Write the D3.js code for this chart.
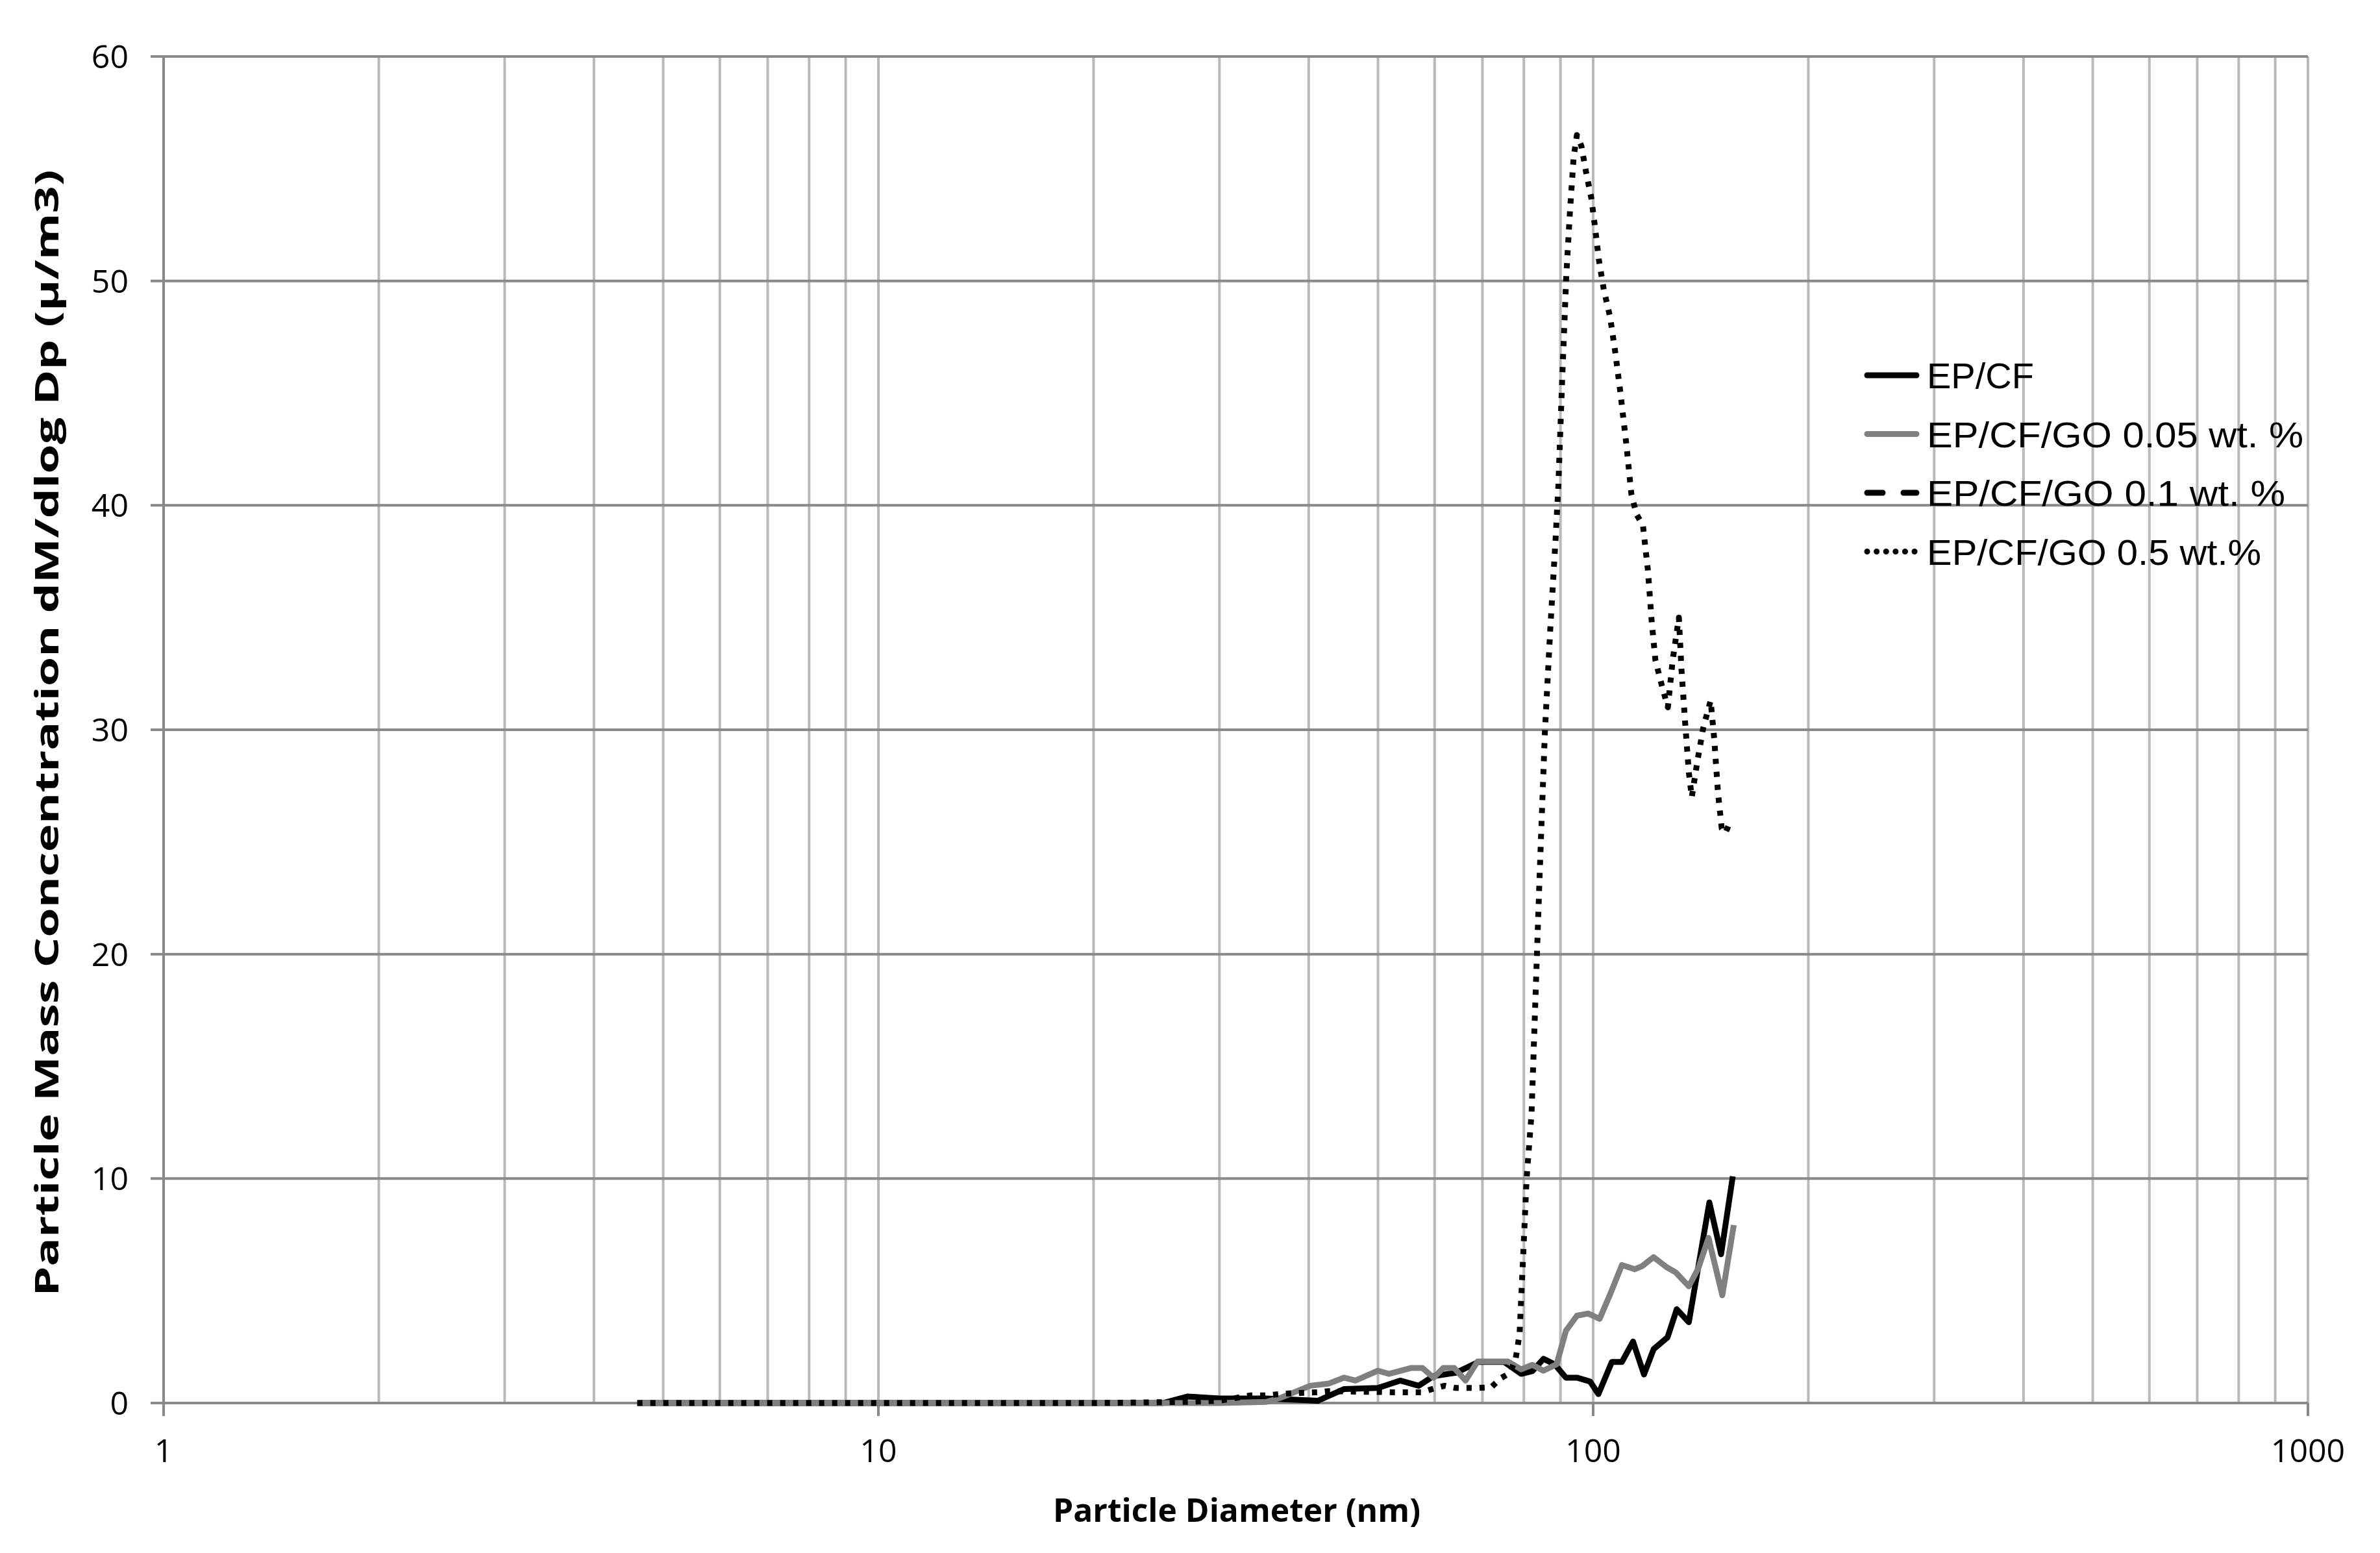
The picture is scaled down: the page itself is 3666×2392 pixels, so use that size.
<!DOCTYPE html>
<html>
<head>
<meta charset="utf-8">
<script src="https://cdn.jsdelivr.net/npm/d3@7"></script>
<style>
  html, body { margin: 0; padding: 0; background: #fff; }
  svg { display: block; }
  .tick-label { font-family: "Open Sans", "DejaVu Sans", sans-serif; font-size: 50px; fill: #000; }
  .axis-title { font-family: "Open Sans", "Liberation Sans", sans-serif; font-size: 50px; font-weight: bold; fill: #000; }
  .legend-text { font-family: "Liberation Sans Narrow", "Liberation Sans", sans-serif; font-size: 56px; fill: #000; }
</style>
</head>
<body>
<div id="chart"></div>
<script>
// Particle mass distribution, log x axis.
const xTicks = [1, 10, 100, 1000];
const yTicks = [0, 10, 20, 30, 40, 50, 60];

const epcfD = [4.6, 10, 20, 25, 27.1, 30, 34.9, 41.2, 44.8, 50, 53.7, 57, 59.8, 64.3, 69.1, 75.1, 79.3, 82.2, 85.2, 88.3, 91.6, 94.9, 99, 101.7, 106.2, 109.7, 113.7, 117.8, 121.5, 127.1, 130.9, 136.1, 145.4, 151, 156.8];
const epcfV = [0, 0, 0, 0, 0.29, 0.2, 0.2, 0.1, 0.62, 0.67, 1.0, 0.77, 1.2, 1.35, 1.83, 1.83, 1.3, 1.42, 1.97, 1.73, 1.13, 1.13, 0.96, 0.4, 1.83, 1.83, 2.74, 1.27, 2.4, 2.93, 4.18, 3.6, 8.94, 6.63, 10.1];

const go005D = [4.6, 10, 20, 30, 34.9, 36.6, 40.2, 42.7, 44.8, 46.5, 50, 51.8, 55.6, 57.7, 59.8, 61.7, 63.9, 66.3, 68.9, 76, 79.3, 82.2, 85.2, 88.9, 91.6, 94.9, 98.4, 102.1, 105.8, 109.7, 114.4, 117.1, 121.5, 126.6, 130.5, 136.1, 140.3, 145, 151.6, 157.3];
const go005V = [0, 0, 0, 0, 0.05, 0.24, 0.77, 0.87, 1.13, 1.0, 1.44, 1.3, 1.56, 1.56, 1.13, 1.56, 1.56, 1.0, 1.85, 1.85, 1.5, 1.7, 1.44, 1.73, 3.22, 3.89, 3.99, 3.75, 4.9, 6.15, 5.96, 6.1, 6.5, 6.06, 5.82, 5.2, 6.0, 7.36, 4.8, 7.93];

// 0.1 wt.% curve is not visible in the reference (hidden); legend entry only
const go01D = [];
const go01V = [];

const go05D = [4.6, 10, 20, 27, 30, 33.2, 34.9, 37.5, 41.2, 42.7, 52.4, 57.7, 59.5, 62, 64.3, 68, 72, 74.2, 76.5, 77.9, 78.4, 78.9, 79.8, 80.7, 82, 84.2, 85.6, 87.1, 88.6, 89.4, 90.5, 91.7, 92.8, 93.9, 94.9, 96.3, 97.8, 99.4, 100.6, 101.9, 103.5, 105.6, 107.3, 109.1, 111.3, 113.1, 115, 117.4, 119.3, 120.7, 122.2, 124.7, 127.2, 129.2, 131.8, 132.9, 134.5, 136.1, 137.4, 139.9, 142.6, 146, 147.7, 149.5, 151.3, 153.1, 155.5];
const go05V = [0, 0, 0, 0.05, 0.1, 0.34, 0.34, 0.43, 0.48, 0.53, 0.48, 0.48, 0.62, 0.77, 0.67, 0.67, 0.7, 1.1, 1.34, 1.97, 2.5, 3.1, 6.5, 10.0, 12.9, 23.7, 29.9, 34.5, 38.5, 40.9, 45.6, 50.2, 53.1, 55.5, 56.5, 56.0, 54.8, 53.7, 52.4, 50.9, 49.6, 48.4, 46.9, 45.1, 42.7, 40.5, 39.6, 39.1, 37.1, 34.9, 33.1, 32.0, 31.0, 33.1, 35.0, 32.7, 30.3, 28.1, 27.0, 28.6, 30.1, 31.3, 29.6, 27.2, 25.6, 25.4, 25.9];

const seriesNames = ['EP/CF', 'EP/CF/GO 0.05 wt. %', 'EP/CF/GO 0.1 wt. %', 'EP/CF/GO 0.5 wt.%'];

const W = 3666, H = 2392;
const m = { left: 252, right: 3555, top: 87, bottom: 2161 };

const series = [
  { name: seriesNames[0], d: epcfD, v: epcfV, color: '#000', width: 9, dash: null, legDash: null },
  { name: seriesNames[1], d: go005D, v: go005V, color: '#808080', width: 9, dash: null, legDash: null },
  { name: seriesNames[2], d: go01D, v: go01V, color: '#000', width: 9, dash: '30 20', legDash: '24 32' },
  { name: seriesNames[3], d: go05D, v: go05V, color: '#000', width: 9, dash: '8 12', legDash: '0.1 14.5' },
];

const svg = d3.select('#chart').append('svg').attr('width', W).attr('height', H);

const x = d3.scaleLog().domain([1, 1000]).range([m.left, m.right]);
const y = d3.scaleLinear().domain([0, 60]).range([m.bottom, m.top]);

// vertical minor/major gridlines (light)
const vLines = [];
for (let dec = 1; dec < 1000; dec *= 10) for (let k = 1; k <= 10; k++) if (dec * k > 1) vLines.push(dec * k);
svg.append('g').selectAll('line').data(vLines).join('line')
  .attr('x1', d => x(d)).attr('x2', d => x(d))
  .attr('y1', m.top).attr('y2', m.bottom)
  .attr('stroke', '#b9b9b9').attr('stroke-width', 4);

// horizontal gridlines (darker)
svg.append('g').selectAll('line').data(yTicks).join('line')
  .attr('x1', m.left - 20).attr('x2', m.right)
  .attr('y1', d => y(d)).attr('y2', d => y(d))
  .attr('stroke', '#898989').attr('stroke-width', 4);

// left axis line and bottom ticks
svg.append('line').attr('x1', m.left).attr('x2', m.left).attr('y1', m.top).attr('y2', m.bottom + 20)
  .attr('stroke', '#898989').attr('stroke-width', 4);
svg.append('g').selectAll('line').data(xTicks).join('line')
  .attr('x1', d => x(d)).attr('x2', d => x(d))
  .attr('y1', m.bottom).attr('y2', m.bottom + 20)
  .attr('stroke', '#898989').attr('stroke-width', 4);

// tick labels
svg.append('g').selectAll('text').data(yTicks).join('text')
  .attr('class', 'tick-label')
  .attr('x', 198).attr('y', d => y(d) + 18)
  .attr('text-anchor', 'end').text(d => d);
svg.append('g').selectAll('text').data(xTicks).join('text')
  .attr('class', 'tick-label')
  .attr('x', d => x(d)).attr('y', 2252)
  .attr('text-anchor', 'middle').text(d => d);

// axis titles
svg.append('text').attr('class', 'axis-title')
  .attr('x', 1905).attr('y', 2344)
  .attr('text-anchor', 'middle')
  .attr('textLength', 566).attr('lengthAdjust', 'spacingAndGlyphs')
  .text('Particle Diameter (nm)');
svg.append('text').attr('class', 'axis-title')
  .attr('transform', `translate(90,${(m.top + m.bottom) / 2 + 5}) rotate(-90)`)
  .attr('text-anchor', 'middle')
  .attr('textLength', 1735).attr('lengthAdjust', 'spacingAndGlyphs')
  .text('Particle Mass Concentration dM/dlog Dp (µ/m3)');

// legend (drawn over gridlines, no box)
const leg = svg.append('g');
series.forEach((s, i) => {
  const ly = 578 + i * 90.5;
  leg.append('line')
    .attr('x1', 2876).attr('x2', 2952)
    .attr('y1', ly).attr('y2', ly)
    .attr('stroke', s.color).attr('stroke-width', s.width)
    .attr('stroke-linecap', 'round')
    .attr('stroke-dasharray', s.legDash);
  leg.append('text').attr('class', 'legend-text')
    .attr('x', 2968).attr('y', ly + 20)
    .attr('textLength', i === 0 ? null : [0, 580, 552, 515][i])
    .attr('lengthAdjust', 'spacingAndGlyphs')
    .text(s.name);
});

// series lines
const line = d3.line().x(p => x(p[0])).y(p => y(p[1]));
svg.append('g').selectAll('path').data(series.filter(s => s.d.length)).join('path')
  .attr('d', s => line(d3.zip(s.d, s.v)))
  .attr('fill', 'none')
  .attr('stroke', s => s.color)
  .attr('stroke-width', s => s.width)
  .attr('stroke-linejoin', 'round')
  .attr('stroke-dasharray', s => s.dash);
</script>
</body>
</html>
